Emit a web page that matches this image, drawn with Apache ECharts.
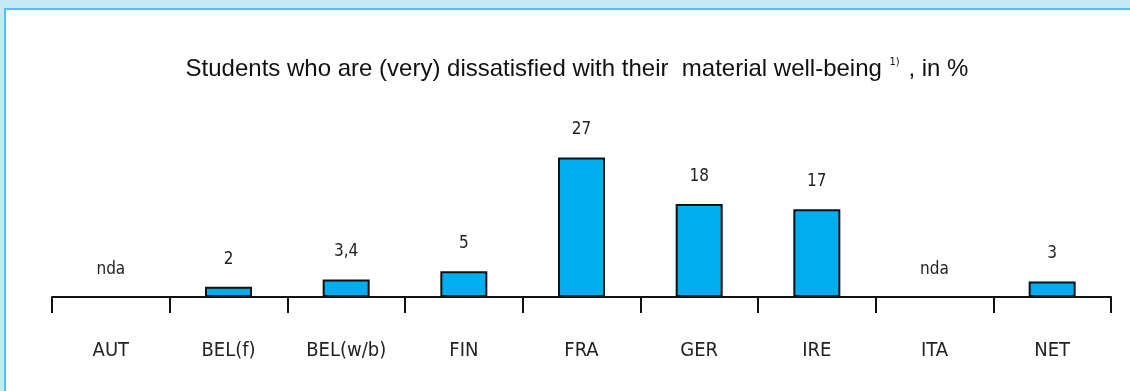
<!DOCTYPE html>
<html>
<head>
<meta charset="utf-8">
<script src="https://cdn.jsdelivr.net/npm/echarts@6/dist/echarts.min.js"></script>
<style>
  html, body { margin: 0; padding: 0; background: #c6e9f8; }
  #chart { width: 1130px; height: 391px; }
</style>
</head>
<body>
<div id="chart"></div>
<script>
// Countries on the x axis
const countries = ['AUT', 'BEL(f)', 'BEL(w/b)', 'FIN', 'FRA', 'GER', 'IRE', 'ITA', 'NET'];
// Share of students (very) dissatisfied, in %; null = no data available
const dissatisfied = [null, 2, 3.4, 5, 27, 18, 17, null, 3];
// Text printed above each bar
const valueLabels = ['nda', '2', '3,4', '5', '27', '18', '17', 'nda', '3'];

const condensed = '"Liberation Sans Narrow", "DejaVu Sans Condensed", "Roboto Condensed", sans-serif';

const chart = echarts.init(document.getElementById('chart'));

const barData = dissatisfied.map((v) => {
  if (v === null) {
    // keep the slot so the "nda" label sits on the axis, but draw no bar
    return { value: 0, itemStyle: { color: 'rgba(0,0,0,0)', borderWidth: 0 } };
  }
  return { value: v };
});

chart.setOption({
  backgroundColor: '#c6e9f8',
  animation: false,
  graphic: [
    {
      type: 'rect',
      shape: { x: 5, y: 9, width: 1130, height: 400 },
      style: { fill: '#ffffff', stroke: '#4cc4f0', lineWidth: 2 },
      z: -10
    }
  ],
  title: {
    text: '{a|Students who are (very) dissatisfied with their  material well-being }{s|1)}{a| , in %}',
    left: 572,
    textAlign: 'center',
    top: 50,
    textStyle: {
      fontWeight: 'normal',
      rich: {
        a: { fontFamily: '"Liberation Sans", Arial, sans-serif', fontSize: 24, fontWeight: 'normal', color: '#111', lineHeight: 28 },
        s: { fontFamily: condensed, fontSize: 11, fontWeight: 'normal', color: '#111', verticalAlign: 'top', padding: [2, 2, 0, 1] }
      }
    }
  },
  grid: { left: 52, right: 19, top: 142, bottom: 94 },
  xAxis: {
    type: 'category',
    data: countries,
    boundaryGap: true,
    axisLine: { lineStyle: { color: '#111', width: 2 } },
    axisTick: { show: true, length: 16, lineStyle: { color: '#111', width: 2 } },
    axisLabel: { margin: 44, fontFamily: condensed, fontSize: 20, color: '#222' }
  },
  yAxis: {
    type: 'value',
    min: 0,
    max: 30,
    show: false,
    splitLine: { show: false }
  },
  series: [
    {
      type: 'bar',
      data: barData,
      barWidth: 47,
      itemStyle: { color: '#00adee', borderColor: '#111', borderWidth: 2 },
      label: {
        show: true,
        position: 'top',
        distance: 19,
        fontFamily: condensed,
        fontSize: 17,
        color: '#222',
        formatter: p => valueLabels[p.dataIndex]
      }
    }
  ]
});
</script>
</body>
</html>
